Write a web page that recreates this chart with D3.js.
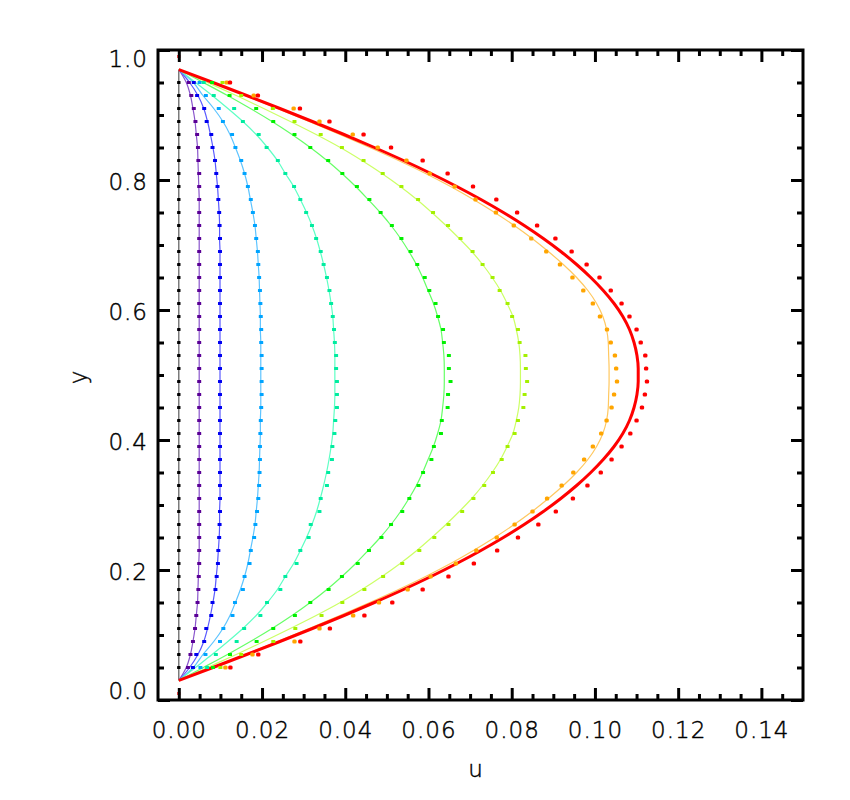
<!DOCTYPE html>
<html>
<head>
<meta charset="utf-8">
<script src="https://cdn.jsdelivr.net/npm/d3@7"></script>
<style>
  html, body { margin: 0; padding: 0; background: #fff; }
  svg { display: block; }
  .lbl { font-family: "DejaVu Sans", sans-serif; font-weight: 200; font-size: 23px; fill: #000; stroke: #000; stroke-width: 0.45px; letter-spacing: 1px; }
</style>
</head>
<body>
<svg id="chart" width="850" height="800"></svg>
<script>
// ---------------- data ----------------
const xMajorTicks = [0.00, 0.02, 0.04, 0.06, 0.08, 0.10, 0.12, 0.14];
const xMinorTicks = [0.005, 0.01, 0.015, 0.025, 0.03, 0.035, 0.045, 0.05, 0.055, 0.065, 0.07, 0.075,
                     0.085, 0.09, 0.095, 0.105, 0.11, 0.115, 0.125, 0.13, 0.135, 0.145];
const yMajorTicks = [0.0, 0.2, 0.4, 0.6, 0.8, 1.0];
const yMinorTicks = [0.05, 0.1, 0.15, 0.25, 0.3, 0.35, 0.45, 0.5, 0.55, 0.65, 0.7, 0.75, 0.85, 0.9, 0.95];

// y positions of the continuous profiles
const lineY = [0.03,0.05,0.07,0.09,0.11,0.13,0.15,0.17,0.19,0.21,0.23,0.25,0.27,0.29,0.31,0.33,0.35,0.37,0.39,0.41,0.43,0.45,0.47,0.49,
               0.51,0.53,0.55,0.57,0.59,0.61,0.63,0.65,0.67,0.69,0.71,0.73,0.75,0.77,0.79,0.81,0.83,0.85,0.87,0.89,0.91,0.93,0.95,0.97];
// y positions of the discrete points
const dotY = [0.05,0.07,0.09,0.11,0.13,0.15,0.17,0.19,0.21,0.23,0.25,0.27,0.29,0.31,0.33,0.35,0.37,0.39,0.41,0.43,0.45,0.47,0.49,
              0.51,0.53,0.55,0.57,0.59,0.61,0.63,0.65,0.67,0.69,0.71,0.73,0.75,0.77,0.79,0.81,0.83,0.85,0.87,0.89,0.91,0.93,0.95];
// boundary points
const wallY = [0.01, 0.99];
const wallU = [0, 0];

// continuous profiles u(y)
const blackLine  = [0,0,0,0,0,0,0,0,0,0,0,0,0,0,0,0,0,0,0,0,0,0,0,0,0,0,0,0,0,0,0,0,0,0,0,0,0,0,0,0,0,0,0,0,0,0,0,0];
const purpleLine = [0,0.0018,0.0028,0.0034,0.0039,0.0042,0.0045,0.0046,0.0047,0.0048,0.0049,0.0049,0.0049,0.0049,0.0049,0.0049,0.0049,0.0049,0.0049,0.0049,0.0049,0.0049,0.0049,0.0049,
                    0.0049,0.0049,0.0049,0.0049,0.0049,0.0049,0.0049,0.0049,0.0049,0.0049,0.0049,0.0049,0.0049,0.0049,0.0048,0.0047,0.0046,0.0045,0.0042,0.0039,0.0034,0.0028,0.0018,0];
const blueLine   = [0,0.0026,0.0046,0.0060,0.0069,0.0076,0.0082,0.0087,0.0090,0.0093,0.0095,0.0097,0.0098,0.0098,0.0099,0.0099,0.0099,0.0099,0.0099,0.0099,0.0099,0.0099,0.0099,0.0099,
                    0.0099,0.0099,0.0099,0.0099,0.0099,0.0099,0.0099,0.0099,0.0099,0.0099,0.0098,0.0098,0.0097,0.0095,0.0093,0.0090,0.0087,0.0082,0.0076,0.0069,0.0060,0.0046,0.0026,0];
const skyLine    = [0,0.0035,0.0058,0.0084,0.0106,0.0123,0.0136,0.0148,0.0158,0.0166,0.0172,0.0178,0.0183,0.0186,0.0189,0.0191,0.0193,0.0194,0.0195,0.0196,0.0196,0.0197,0.0197,0.0197,
                    0.0197,0.0197,0.0197,0.0196,0.0196,0.0195,0.0194,0.0193,0.0191,0.0189,0.0186,0.0183,0.0178,0.0172,0.0166,0.0158,0.0148,0.0136,0.0123,0.0106,0.0084,0.0058,0.0035,0];
const aquaLine   = [0,0.0040,0.0080,0.0118,0.0154,0.0186,0.0213,0.0237,0.0256,0.0276,0.0292,0.0307,0.0320,0.0331,0.0340,0.0348,0.0355,0.0361,0.0366,0.0370,0.0372,0.0374,0.0375,0.0375,
                    0.0375,0.0375,0.0374,0.0372,0.0370,0.0366,0.0361,0.0355,0.0348,0.0340,0.0331,0.0320,0.0307,0.0292,0.0276,0.0256,0.0237,0.0213,0.0186,0.0154,0.0118,0.0080,0.0040,0];
const greenLine  = [0,0.0059,0.0117,0.0172,0.0224,0.0272,0.0316,0.0356,0.0392,0.0425,0.0455,0.0484,0.0510,0.0533,0.0553,0.0571,0.0586,0.0599,0.0612,0.0622,0.0630,0.0634,0.0637,0.0638,
                    0.0638,0.0637,0.0634,0.0630,0.0622,0.0612,0.0599,0.0586,0.0571,0.0553,0.0533,0.0510,0.0484,0.0455,0.0425,0.0392,0.0356,0.0316,0.0272,0.0224,0.0172,0.0117,0.0059,0];
const limeLine   = [0,0.0069,0.0138,0.0204,0.0268,0.0330,0.0388,0.0440,0.0488,0.0532,0.0572,0.0608,0.0642,0.0674,0.0704,0.0730,0.0753,0.0773,0.0789,0.0803,0.0811,0.0817,0.0820,0.0821,
                    0.0821,0.0820,0.0817,0.0811,0.0803,0.0789,0.0773,0.0753,0.0730,0.0704,0.0674,0.0642,0.0608,0.0572,0.0532,0.0488,0.0440,0.0388,0.0330,0.0268,0.0204,0.0138,0.0069,0];
const orangeLine = [0,0.0080,0.0159,0.0237,0.0313,0.0387,0.0459,0.0528,0.0593,0.0653,0.0708,0.0759,0.0806,0.0849,0.0888,0.0924,0.0956,0.0983,0.1004,0.1019,0.1028,0.1032,0.1033,0.1034,
                    0.1034,0.1033,0.1032,0.1028,0.1019,0.1004,0.0983,0.0956,0.0924,0.0888,0.0849,0.0806,0.0759,0.0708,0.0653,0.0593,0.0528,0.0459,0.0387,0.0313,0.0237,0.0159,0.0080,0];
const redLine    = [0,0.0082,0.0163,0.0243,0.0321,0.0397,0.0470,0.0540,0.0606,0.0668,0.0726,0.0780,0.0830,0.0876,0.0918,0.0956,0.0990,0.1020,0.1046,0.1067,0.1083,0.1094,0.1101,0.1104,
                    0.1104,0.1101,0.1094,0.1083,0.1067,0.1046,0.1020,0.0990,0.0956,0.0918,0.0876,0.0830,0.0780,0.0726,0.0668,0.0606,0.0540,0.0470,0.0397,0.0321,0.0243,0.0163,0.0082,0];

// discrete points u(y)
const blackDots  = [0,0,0,0,0,0,0,0,0,0,0,0,0,0,0,0,0,0,0,0,0,0,0,0,0,0,0,0,0,0,0,0,0,0,0,0,0,0,0,0,0,0,0,0,0,0];
const purpleDots = [0.0022,0.0028,0.0034,0.0039,0.0042,0.0045,0.0047,0.0048,0.0049,0.0049,0.0049,0.0049,0.0049,0.0049,0.0049,0.0049,0.0049,0.0049,0.0049,0.0049,0.0049,0.0049,0.0049,
                    0.0049,0.0049,0.0049,0.0049,0.0049,0.0049,0.0049,0.0049,0.0049,0.0049,0.0049,0.0049,0.0049,0.0049,0.0049,0.0049,0.0047,0.0046,0.0044,0.0040,0.0036,0.0030,0.0024];
const blueDots   = [0.0034,0.0042,0.0061,0.0066,0.0078,0.0081,0.0088,0.0091,0.0094,0.0095,0.0097,0.0098,0.0099,0.0099,0.0099,0.0099,0.0099,0.0099,0.0099,0.0099,0.0099,0.0099,0.0099,
                    0.0099,0.0099,0.0099,0.0099,0.0099,0.0099,0.0099,0.0099,0.0099,0.0099,0.0099,0.0098,0.0097,0.0095,0.0093,0.0090,0.0087,0.0081,0.0078,0.0067,0.0061,0.0044,0.0036];
const skyDots    = [0.0052,0.0064,0.0099,0.0107,0.0129,0.0135,0.0154,0.0158,0.0170,0.0173,0.0181,0.0184,0.0188,0.0191,0.0193,0.0194,0.0195,0.0195,0.0196,0.0197,0.0198,0.0199,0.0199,
                    0.0199,0.0199,0.0198,0.0198,0.0197,0.0196,0.0195,0.0193,0.0191,0.0190,0.0186,0.0183,0.0178,0.0173,0.0166,0.0158,0.0150,0.0136,0.0128,0.0106,0.0096,0.0065,0.0050];
const aquaDots   = [0.0068,0.0089,0.0139,0.0157,0.0196,0.0212,0.0244,0.0256,0.0283,0.0292,0.0312,0.0317,0.0338,0.0341,0.0356,0.0359,0.0368,0.0369,0.0374,0.0376,0.0380,0.0380,0.0380,
                    0.0378,0.0378,0.0375,0.0373,0.0370,0.0366,0.0362,0.0356,0.0348,0.0341,0.0330,0.0320,0.0306,0.0292,0.0277,0.0256,0.0238,0.0211,0.0192,0.0154,0.0133,0.0084,0.0060];
const greenDots  = [0.0082,0.0123,0.0187,0.0227,0.0279,0.0316,0.0360,0.0392,0.0430,0.0457,0.0487,0.0510,0.0537,0.0554,0.0576,0.0587,0.0607,0.0613,0.0630,0.0632,0.0646,0.0647,0.0653,
                    0.0649,0.0649,0.0637,0.0635,0.0623,0.0617,0.0602,0.0591,0.0573,0.0557,0.0535,0.0512,0.0485,0.0458,0.0428,0.0393,0.0359,0.0316,0.0278,0.0227,0.0186,0.0122,0.0080];
const limeDots   = [0.0100,0.0150,0.0227,0.0280,0.0343,0.0393,0.0446,0.0491,0.0537,0.0578,0.0614,0.0648,0.0681,0.0708,0.0734,0.0755,0.0776,0.0790,0.0807,0.0815,0.0828,0.0831,0.0837,
                    0.0834,0.0833,0.0819,0.0815,0.0801,0.0790,0.0771,0.0754,0.0730,0.0706,0.0677,0.0647,0.0611,0.0575,0.0535,0.0490,0.0444,0.0392,0.0341,0.0278,0.0226,0.0150,0.0105];
const orangeDots = [0.0112,0.0177,0.0278,0.0338,0.0419,0.0481,0.0550,0.0605,0.0666,0.0715,0.0764,0.0807,0.0850,0.0885,0.0920,0.0948,0.0974,0.0995,0.1015,0.1028,0.1040,0.1046,0.1053,
                    0.1051,0.1048,0.1038,0.1029,0.1012,0.0995,0.0972,0.0946,0.0916,0.0883,0.0847,0.0805,0.0762,0.0713,0.0663,0.0603,0.0547,0.0478,0.0418,0.0338,0.0276,0.0180,0.0115];
const redDots    = [0.0124,0.0191,0.0292,0.0363,0.0446,0.0513,0.0586,0.0648,0.0709,0.0765,0.0815,0.0864,0.0906,0.0947,0.0982,0.1014,0.1040,0.1064,0.1085,0.1100,0.1113,0.1120,0.1125,
                    0.1123,0.1121,0.1110,0.1100,0.1083,0.1064,0.1038,0.1011,0.0980,0.0944,0.0905,0.0861,0.0813,0.0763,0.0707,0.0646,0.0586,0.0510,0.0444,0.0362,0.0291,0.0190,0.0123];

// ---------------- styles ----------------
const series = [
  { line: blackLine,  dots: blackDots,  lineColor: "#5a5a5a", dotColor: "#000000", lw: 1.2, dw: 3.4, dh: 3.0, r: 0.6 },
  { line: purpleLine, dots: purpleDots, lineColor: "#8a55cc", dotColor: "#5a0096", lw: 1.2, dw: 4.0, dh: 3.2, r: 0.3 },
  { line: blueLine,   dots: blueDots,   lineColor: "#5a5aff", dotColor: "#0000f0", lw: 1.2, dw: 4.0, dh: 3.2, r: 0.3 },
  { line: skyLine,    dots: skyDots,    lineColor: "#5ec4ff", dotColor: "#00a4ff", lw: 1.2, dw: 4.0, dh: 3.2, r: 0.3 },
  { line: aquaLine,   dots: aquaDots,   lineColor: "#5effc4", dotColor: "#00eca0", lw: 1.2, dw: 4.0, dh: 3.2, r: 0.3 },
  { line: greenLine,  dots: greenDots,  lineColor: "#66ff66", dotColor: "#00f000", lw: 1.2, dw: 4.0, dh: 3.2, r: 0.3 },
  { line: limeLine,   dots: limeDots,   lineColor: "#ccff66", dotColor: "#a4f000", lw: 1.2, dw: 4.0, dh: 3.2, r: 0.3 },
  { line: orangeLine, dots: orangeDots, lineColor: "#ffc860", dotColor: "#ffa500", lw: 1.2, dw: 4.4, dh: 3.8, r: 1.5 },
  { line: redLine,    dots: redDots,    lineColor: "#ff0000", dotColor: "#ff0000", lw: 3.0, dw: 4.4, dh: 3.8, r: 1.5 }
];

// ---------------- chart ----------------
const svg = d3.select("#chart");
const L = 158, R = 803, T = 50, B = 700;
const x = d3.scaleLinear().domain([-0.005, 0.15]).range([L, R]);
const y = d3.scaleLinear().domain([0, 1]).range([B, T]);

svg.append("clipPath").attr("id", "clip").append("rect")
  .attr("x", L).attr("y", T).attr("width", R - L).attr("height", B - T);
const plot = svg.append("g").attr("clip-path", "url(#clip)");

const lineGen = d3.line().x(d => x(d[0])).y(d => y(d[1])).curve(d3.curveMonotoneY);

series.forEach(s => {
  const pts = lineY.map((yy, i) => [s.line[i], yy]);
  plot.append("path").datum(pts)
    .attr("d", lineGen)
    .attr("fill", "none")
    .attr("stroke", s.lineColor)
    .attr("stroke-width", s.lw);
});

series.forEach(s => {
  const pts = dotY.map((yy, i) => [s.dots[i], yy]);
  plot.append("g").selectAll("rect").data(pts).join("rect")
    .attr("x", d => x(d[0]) - s.dw / 2)
    .attr("y", d => y(d[1]) - s.dh / 2)
    .attr("width", s.dw)
    .attr("height", s.dh)
    .attr("rx", s.r)
    .attr("fill", s.dotColor);
});

plot.append("g").selectAll("rect").data(wallY.map((yy, i) => [wallU[i], yy])).join("rect")
  .attr("x", d => x(d[0]) - 1.5)
  .attr("y", d => y(d[1]) - 1.5)
  .attr("width", 3).attr("height", 3)
  .attr("fill", "#ff0000");

// ---------------- axes ----------------
function styleAxis(g) {
  g.select(".domain").remove();
  g.selectAll(".tick line").attr("stroke", "#000").attr("stroke-width", 3);
  g.selectAll(".tick text").attr("class", "lbl").attr("fill", "#000");
}

// bottom
svg.append("g").attr("transform", `translate(0,${B})`)
  .call(d3.axisBottom(x).tickValues(xMajorTicks).tickSize(-12).tickPadding(22).tickFormat(d3.format(".2f")))
  .call(styleAxis);
svg.append("g").attr("transform", `translate(0,${B})`)
  .call(d3.axisBottom(x).tickValues(xMinorTicks).tickSize(-6).tickFormat(""))
  .call(styleAxis);
// top
svg.append("g").attr("transform", `translate(0,${T})`)
  .call(d3.axisTop(x).tickValues(xMajorTicks).tickSize(-12).tickFormat(""))
  .call(styleAxis);
svg.append("g").attr("transform", `translate(0,${T})`)
  .call(d3.axisTop(x).tickValues(xMinorTicks).tickSize(-6).tickFormat(""))
  .call(styleAxis);
// left
const leftAxis = svg.append("g").attr("transform", `translate(${L},0)`)
  .call(d3.axisLeft(y).tickValues(yMajorTicks).tickSize(-12).tickPadding(10).tickFormat(d3.format(".1f")))
  .call(styleAxis);
leftAxis.selectAll(".tick text").attr("dy", d => d === 1 ? "0.70em" : (d === 0 ? "-0.08em" : "0.42em"));
svg.append("g").attr("transform", `translate(${L},0)`)
  .call(d3.axisLeft(y).tickValues(yMinorTicks).tickSize(-6).tickFormat(""))
  .call(styleAxis);
// right
svg.append("g").attr("transform", `translate(${R},0)`)
  .call(d3.axisRight(y).tickValues(yMajorTicks).tickSize(-12).tickFormat(""))
  .call(styleAxis);
svg.append("g").attr("transform", `translate(${R},0)`)
  .call(d3.axisRight(y).tickValues(yMinorTicks).tickSize(-6).tickFormat(""))
  .call(styleAxis);

// frame
svg.append("rect").attr("x", L).attr("y", T).attr("width", R - L).attr("height", B - T)
  .attr("fill", "none").attr("stroke", "#000").attr("stroke-width", 3);

// titles
svg.append("text").attr("class", "lbl").attr("x", 476).attr("y", 777)
  .attr("text-anchor", "middle").text("u");
svg.append("text").attr("class", "lbl")
  .attr("transform", "translate(86,377) rotate(-90)")
  .attr("text-anchor", "middle").text("y");
</script>
</body>
</html>
